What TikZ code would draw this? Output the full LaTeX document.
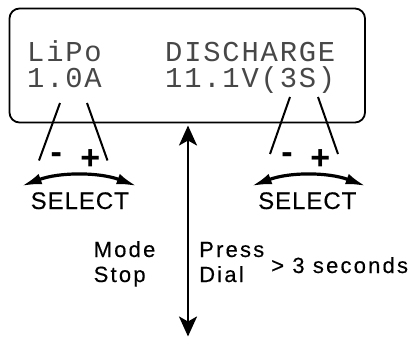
\documentclass[tikz,border=0pt]{standalone}
\usepackage{fontspec}
\setmainfont{Liberation Sans}
\newfontfamily\lcdfont{Liberation Mono}[LetterSpace=6.3]
\newfontfamily\labfont{Liberation Sans}[LetterSpace=10,FakeBold=0.3]
\newfontfamily\selfont{Liberation Sans}[LetterSpace=4,FakeBold=0.3]
\newfontfamily\pmfont{Liberation Sans Bold}
\usetikzlibrary{arrows.meta}
\begin{document}
\begin{tikzpicture}[x=1pt,y=-1pt,
  lcdtext/.style={anchor=base west,inner sep=0pt,text=black!72,font=\lcdfont\fontsize{28.8}{30}\selectfont},
  lab/.style={anchor=base west,inner sep=0pt,font=\labfont\fontsize{22}{24}\selectfont},
  sel/.style={anchor=base west,inner sep=0pt,font=\selfont\fontsize{24}{26}\selectfont},
  pm/.style={anchor=base,inner sep=0pt,font=\pmfont\fontsize{34}{35}\selectfont},
  pointer/.style={line width=2pt},
  turn/.style={line width=3.2pt,{Latex[length=20pt,width=11pt]}-{Latex[length=20pt,width=11pt]}},
  press/.style={line width=2.6pt,{Stealth[length=20pt,width=18pt,inset=5pt]}-{Stealth[length=20pt,width=18pt,inset=5pt]}}]
\useasboundingbox (0,0) rectangle (420,337);
% display
\node[draw,line width=1.8pt,rounded corners=10pt,minimum width=355.5pt,minimum height=114pt,inner sep=0pt] (lcd) at (187.25,65.5) {};
\node[lcdtext] (t1) at (27,61) {LiPo};
\node[lcdtext] (t2) at (165,61) {DISCHARGE};
\node[lcdtext] (t3) at (27,87) {1.0A};
\node[lcdtext] (t4) at (165,87) {11.1V(3S)};
% pointers left
\coordinate (la1) at (60,103);
\coordinate (la2) at (39,160.5);
\coordinate (lb1) at (87,103);
\coordinate (lb2) at (107.5,160.5);
\draw[pointer] (la1) -- (la2);
\draw[pointer] (lb1) -- (lb2);
% pointers right
\coordinate (ra1) at (290,97);
\coordinate (ra2) at (270,154);
\coordinate (rb1) at (318,97);
\coordinate (rb2) at (338,154);
\draw[pointer] (ra1) -- (ra2);
\draw[pointer] (rb1) -- (rb2);
% minus / plus
\node[pm] (lm) at (56.3,163.5) {-};
\node[pm] (lp) at (90.3,169.3) {+};
\node[pm] (rm) at (287,163.5) {-};
\node[pm] (rp) at (320.3,169.3) {+};
% select arcs
\coordinate (sl1) at (21.7,186);
\coordinate (sl2) at (136.7,186);
\coordinate (sr1) at (251.7,186);
\coordinate (sr2) at (365.7,186);
\draw[turn] (sl1) .. controls (59.7,172) and (98.7,172) .. (sl2);
\draw[turn] (sr1) .. controls (289.7,172) and (327.7,172) .. (sr2);
\node[sel] (s1) at (30.5,209) {SELECT};
\node[sel] (s2) at (258,209) {SELECT};
% press arrow
\coordinate (pt) at (188,125.5);
\coordinate (pb) at (188,336.5);
\draw[press] (pt) -- (pb);
\node[lab] (m1) at (93.5,257) {Mode};
\node[lab] (m2) at (93.5,282) {Stop};
\node[lab] (p1) at (199,257) {Press};
\node[lab] (p2) at (199,282) {Dial};
\node[lab] (p3) at (271,273) {> 3 seconds};
\end{tikzpicture}
\end{document}
